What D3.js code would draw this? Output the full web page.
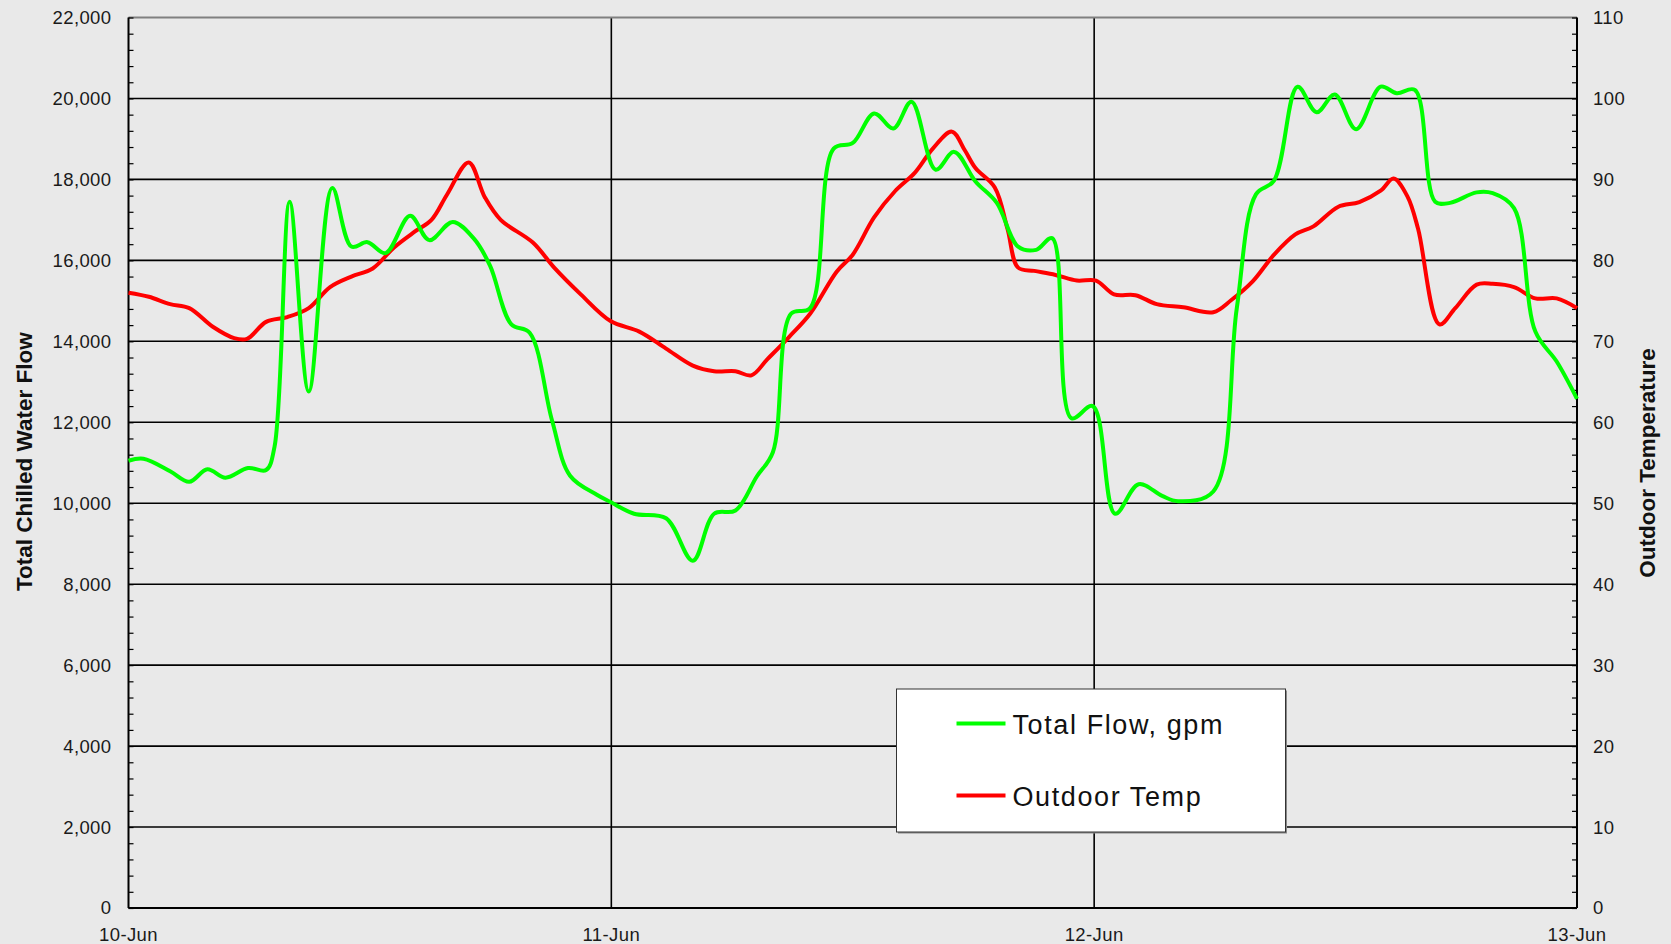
<!DOCTYPE html>
<html>
<head>
<meta charset="utf-8">
<script src="https://cdn.jsdelivr.net/npm/d3@7"></script>
<style>
    body { margin: 0; background: #e9e9e9; }
    svg { display: block; font-family: "Liberation Sans", Arial, sans-serif; }
    .tick-label { font-size: 18.5px; letter-spacing: 0.4px; fill: #1a1a1a; }
    .axis-title { font-size: 22.5px; font-weight: bold; fill: #111; }
    .legend-text { font-size: 27px; letter-spacing: 1.6px; fill: #111; }
</style>
</head>
<body>
<div id="chart"></div>
<script>
// hours since 10-Jun 00:00
let flowHours = [0, 0.74, 2.07, 3.02, 3.92, 4.82, 5.94, 6.84, 7.26, 8.01, 8.96, 10.13, 11.08, 11.88, 12.78,
    14.0, 14.95, 16.12, 17.18, 17.97, 19.03, 19.94, 21.05, 21.95, 23.28, 23.96, 25.13, 26.72, 28.05, 29.11,
    30.17, 31.23, 32.03, 32.93, 33.88, 35.05, 36.0, 37.06, 38.02, 38.92, 40.12, 41.04, 42.1, 43.16, 44.22,
    45.12, 45.91, 46.87, 47.93, 49.04, 50.21, 51.38, 52.17, 53.92, 55.09, 56.04, 56.94, 58.11, 59.06, 59.96,
    61.02, 62.24, 63.04, 63.94, 64.95, 65.69, 67.01, 67.81, 68.87, 69.93, 70.99, 72];
let flowValues = [11050, 11100, 10790, 10530, 10840, 10630, 10870, 10820, 11400, 17450, 12760, 17790, 16340, 16450, 16180,
    17100, 16500, 16950, 16530, 15870, 14420, 14210, 12050, 10680, 10210, 10030, 9740, 9630, 8580, 9740,
    9820, 10660, 11260, 14680, 14820, 18760, 18900, 19630, 19260, 19920, 18240, 18680, 17950, 17420, 16340,
    16260, 16550, 12100, 12400, 9740, 10470, 10180, 10050, 10290, 14820, 17630, 17970, 20290, 19660, 20100,
    19240, 20290, 20130, 20210, 17450, 17420, 17680, 17660, 17290, 14240, 13500, 12580];

let tempHours = [0, 1.01, 2.07, 3.02, 4.19, 5.25, 5.89, 6.84, 7.9, 8.96, 10.02, 11.08, 12.14, 13.2, 14.26,
    15.06, 15.85, 16.91, 17.71, 18.5, 20.1, 21.16, 22.48, 23.96, 25.39, 26.72, 28.05, 29.11, 30.17, 30.96,
    31.76, 32.82, 33.88, 35.2, 36.0, 37.06, 38.12, 39.08, 39.98, 40.93, 41.57, 42.1, 43.06, 43.69, 44.22,
    45.02, 46.08, 47.14, 48.09, 48.99, 50.05, 51.11, 52.43, 53.92, 54.82, 55.88, 56.94, 58.0, 58.9, 60.12,
    61.18, 62.24, 62.88, 63.57, 64.1, 65.16, 65.95, 67.01, 67.81, 68.87, 69.93, 70.99, 72];
let tempValues = [76.0, 75.5, 74.6, 74.1, 71.8, 70.4, 70.3, 72.4, 73.0, 74.1, 76.7, 78.0, 79.0, 81.6, 83.6,
    85.0, 88.2, 92.1, 87.8, 85.0, 82.2, 79.1, 75.8, 72.5, 71.2, 69.1, 67.0, 66.3, 66.3, 65.8,
    67.8, 70.5, 73.4, 78.6, 80.7, 85.3, 88.6, 90.8, 93.8, 95.9, 93.6, 91.4, 89.0, 83.9, 79.1,
    78.7, 78.2, 77.5, 77.5, 75.8, 75.7, 74.6, 74.2, 73.6, 75.1, 77.4, 80.7, 83.2, 84.2, 86.6,
    87.2, 88.6, 90.1, 87.9, 83.9, 72.1, 74.1, 77.0, 77.1, 76.7, 75.3, 75.3, 74.1];

let dayTicks = [0, 24, 48, 72];
let dayLabels = ["10-Jun", "11-Jun", "12-Jun", "13-Jun"];
let seriesNames = ["Total Flow, gpm", "Outdoor Temp"];
let seriesColors = ["#00ff00", "#ff0000"];

let margin = { top: 17.5, right: 94, bottom: 36, left: 128.5 };
let width = 1671 - margin.left - margin.right;
let height = 944 - margin.top - margin.bottom;

let svg = d3.select("#chart").append("svg")
    .attr("width", 1671)
    .attr("height", 944)
    .style("background", "#e9e9e9")
    .append("g")
    .attr("transform", "translate(" + margin.left + "," + margin.top + ")");

let x = d3.scaleLinear().domain([0, 72]).range([0, width]);
let yFlow = d3.scaleLinear().domain([0, 22000]).range([height, 0]);
let yTemp = d3.scaleLinear().domain([0, 110]).range([height, 0]);

// horizontal gridlines
svg.append("g")
    .selectAll("line")
    .data(d3.range(2000, 22000, 2000))
    .enter().append("line")
    .attr("x1", 0).attr("x2", width)
    .attr("y1", d => yFlow(d)).attr("y2", d => yFlow(d))
    .attr("stroke", "#000").attr("stroke-width", 1.6);

// vertical day lines
svg.append("g")
    .selectAll("line")
    .data([24, 48])
    .enter().append("line")
    .attr("x1", d => x(d)).attr("x2", d => x(d))
    .attr("y1", 0).attr("y2", height)
    .attr("stroke", "#000").attr("stroke-width", 1.6);

// top border
svg.append("line")
    .attr("x1", 0).attr("x2", width).attr("y1", 0).attr("y2", 0)
    .attr("stroke", "#808080").attr("stroke-width", 2);

// left axis
let leftAxis = d3.axisRight(yFlow).tickValues(d3.range(0, 22001, 400)).tickSize(5).tickFormat("");
svg.append("g").call(leftAxis)
    .call(g => g.select(".domain").remove())
    .selectAll("line").attr("stroke", "#000").attr("stroke-width", 1.2);
svg.append("line").attr("x1", 0).attr("x2", 0).attr("y1", 0).attr("y2", height)
    .attr("stroke", "#000").attr("stroke-width", 2);
svg.append("g").selectAll("text")
    .data(yFlow.ticks(11))
    .enter().append("text")
    .attr("class", "tick-label")
    .attr("x", -17).attr("y", d => yFlow(d)).attr("dy", "0.35em")
    .attr("text-anchor", "end")
    .text(d3.format(","));

// right axis
let rightAxis = d3.axisLeft(yTemp).tickValues(d3.range(0, 111, 2)).tickSize(5).tickFormat("");
svg.append("g").attr("transform", "translate(" + width + ",0)").call(rightAxis)
    .call(g => g.select(".domain").remove())
    .selectAll("line").attr("stroke", "#000").attr("stroke-width", 1.2);
svg.append("line").attr("x1", width).attr("x2", width).attr("y1", 0).attr("y2", height)
    .attr("stroke", "#000").attr("stroke-width", 2);
svg.append("g").selectAll("text")
    .data(yTemp.ticks(11))
    .enter().append("text")
    .attr("class", "tick-label")
    .attr("x", width + 16).attr("y", d => yTemp(d)).attr("dy", "0.35em")
    .text(d => d);

// bottom axis
svg.append("line").attr("x1", 0).attr("x2", width).attr("y1", height).attr("y2", height)
    .attr("stroke", "#000").attr("stroke-width", 2);
svg.append("g").selectAll("text")
    .data(dayTicks)
    .enter().append("text")
    .attr("class", "tick-label")
    .attr("x", d => x(d)).attr("y", height + 33)
    .attr("text-anchor", "middle")
    .text((d, i) => dayLabels[i]);

// axis titles
svg.append("text")
    .attr("class", "axis-title")
    .attr("transform", "translate(" + (31.7 - margin.left) + "," + (461.7 - margin.top) + ") rotate(-90)")
    .attr("text-anchor", "middle")
    .text("Total Chilled Water Flow");
svg.append("text")
    .attr("class", "axis-title")
    .attr("transform", "translate(" + (1655 - margin.left) + "," + (463 - margin.top) + ") rotate(-90)")
    .attr("text-anchor", "middle")
    .text("Outdoor Temperature");

// lines
let flowLine = d3.line()
    .x((d, i) => x(flowHours[i]))
    .y(d => yFlow(d))
    .curve(d3.curveCatmullRom.alpha(0.5));
let tempLine = d3.line()
    .x((d, i) => x(tempHours[i]))
    .y(d => yTemp(d))
    .curve(d3.curveCatmullRom.alpha(0.5));

svg.append("path").datum(tempValues)
    .attr("d", tempLine)
    .attr("fill", "none").attr("stroke", seriesColors[1])
    .attr("stroke-width", 4).attr("stroke-linejoin", "round");
svg.append("path").datum(flowValues)
    .attr("d", flowLine)
    .attr("fill", "none").attr("stroke", seriesColors[0])
    .attr("stroke-width", 4).attr("stroke-linejoin", "round");

// legend
let legend = svg.append("g")
    .attr("transform", "translate(" + (896.5 - margin.left) + "," + (689 - margin.top) + ")");
legend.append("rect")
    .attr("x", 1.5).attr("y", 1.5).attr("width", 389).attr("height", 143)
    .attr("fill", "#888");
legend.append("rect")
    .attr("width", 389).attr("height", 143)
    .attr("fill", "#fff").attr("stroke", "#333").attr("stroke-width", 1);
seriesNames.forEach((name, i) => {
    let ly = 34.5 + i * 72;
    legend.append("line")
        .attr("x1", 60).attr("x2", 109).attr("y1", ly).attr("y2", ly)
        .attr("stroke", seriesColors[i]).attr("stroke-width", 4);
    legend.append("text")
        .attr("class", "legend-text")
        .attr("x", 116).attr("y", ly + 10.5)
        .text(name);
});
</script>
</body>
</html>
